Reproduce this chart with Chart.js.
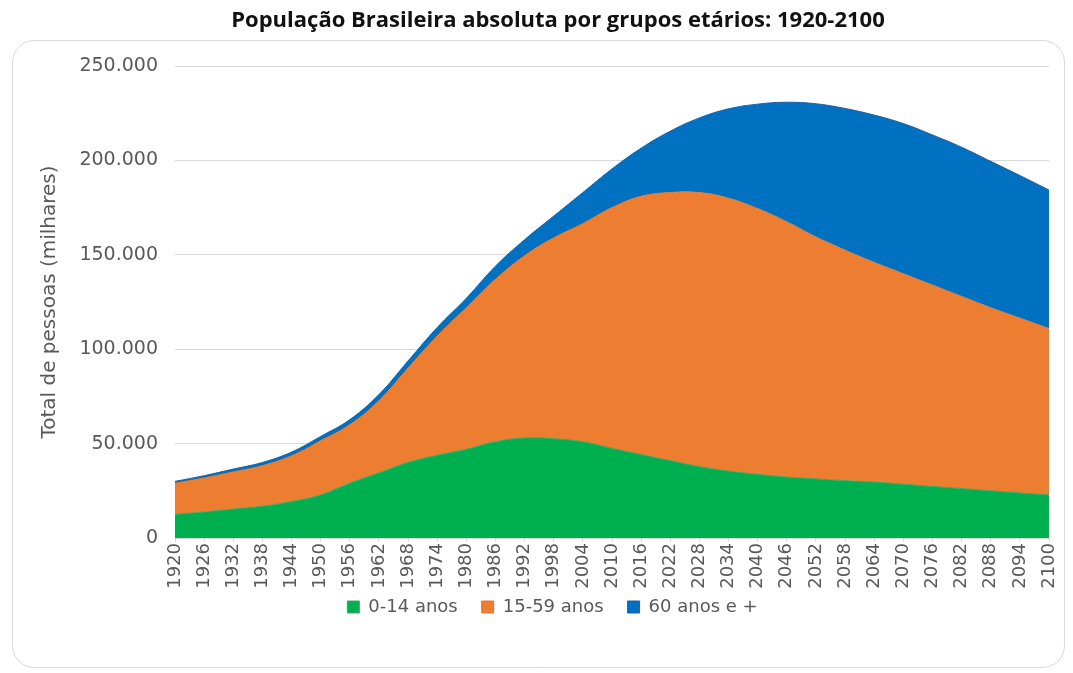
<!DOCTYPE html>
<html lang="pt-BR">
<head>
<meta charset="utf-8">
<title>População Brasileira absoluta por grupos etários</title>
<script src="https://cdn.jsdelivr.net/npm/chart.js@4.4.1/dist/chart.umd.min.js"></script>
<style>
  html, body { margin: 0; padding: 0; background: #ffffff; }
  #caixa { position: relative; width: 1073px; height: 673px; }
  #titulo {
    position: absolute; left: 0; top: 5px; width: 1116px;
    text-align: center; font: bold 22px/26px "Open Sans", sans-serif;
    color: #111111; margin: 0;
  }
</style>
</head>
<body>
<div id="caixa">
  <canvas id="graficoPop" width="1073" height="673"></canvas>
  <h1 id="titulo">População Brasileira absoluta por grupos etários: 1920-2100</h1>
</div>
<script>
// Anos (um rótulo a cada 6 anos)
const anos = [1920, 1926, 1932, 1938, 1944, 1950, 1956, 1962, 1968, 1974, 1980,
  1986, 1992, 1998, 2004, 2010, 2016, 2022, 2028, 2034, 2040, 2046, 2052,
  2058, 2064, 2070, 2076, 2082, 2088, 2094, 2100];

// População em milhares por grupo etário
const pop0a14 = [12500, 13800, 15300, 16800, 19300, 22800, 29000, 34500, 40000,
  43800, 47000, 51000, 53000, 52600, 51000, 47500, 44200, 41000, 37800, 35500,
  33700, 32300, 31300, 30400, 29600, 28500, 27300, 26200, 25000, 23900, 22800];

const pop15a59 = [16500, 18000, 19700, 21500, 24200, 28700, 31000, 38200, 50000,
  63200, 75000, 86000, 96500, 106400, 115500, 127500, 136800, 142000, 145200,
  144500, 140800, 135200, 128200, 122100, 116400, 111500, 106700, 101800, 97000,
  92600, 88200];

const pop60mais = [1000, 1200, 1500, 1700, 2000, 2300, 2700, 3300, 3800, 4500,
  5000, 7000, 8500, 11500, 16500, 20500, 25500, 32500, 39500, 47300, 55300,
  63300, 70500, 75000, 78000, 79500, 79500, 79000, 77500, 75500, 73300];

const ticksY = [0, 50000, 100000, 150000, 200000, 250000];

const corTexto = "#595959";
const fonteBase = "'DejaVu Sans', sans-serif";

// separador de milhar com ponto
function formatar(v) {
  return String(v).replace(/\B(?=(\d{3})+(?!\d))/g, ".");
}

// moldura arredondada por trás do gráfico
const moldura = {
  id: "moldura",
  beforeDraw(chart) {
    const ctx = chart.ctx;
    ctx.save();
    ctx.fillStyle = "#ffffff";
    ctx.fillRect(0, 0, chart.width, chart.height);
    ctx.beginPath();
    ctx.roundRect(12.5, 40.5, 1052, 627, 22);
    ctx.strokeStyle = "#d9d9d9";
    ctx.lineWidth = 1;
    ctx.stroke();
    ctx.restore();
  }
};

// empurra a legenda um pouco para a direita e para baixo
const ajusteLegenda = {
  id: "ajusteLegenda",
  afterLayout(chart) {
    const leg = chart.legend;
    if (!leg) return;
    leg.left += 17;
    leg.right += 17;
    leg.top += 3;
    leg.bottom += 3;
  }
};

const ctx = document.getElementById("graficoPop").getContext("2d");

new Chart(ctx, {
  type: "line",
  data: {
    labels: anos,
    datasets: [
      {
        label: "0-14 anos",
        data: pop0a14,
        backgroundColor: "#00b050",
        borderColor: "#3aa860",
        fill: "origin"
      },
      {
        label: "15-59 anos",
        data: pop15a59,
        backgroundColor: "#ed7d31",
        borderColor: "#d77a3a",
        fill: "-1"
      },
      {
        label: "60 anos e +",
        data: pop60mais,
        backgroundColor: "#0070c0",
        borderColor: "#1f5f9e",
        fill: "-1"
      }
    ]
  },
  options: {
    responsive: false,
    animation: false,
    elements: {
      point: { radius: 0, hoverRadius: 0 },
      line: { tension: 0.4, borderWidth: 1 }
    },
    layout: { padding: { left: 22, right: 24, top: 66, bottom: 50 } },
    plugins: {
      title: { display: false },
      legend: {
        position: "bottom",
        labels: {
          color: corTexto,
          font: { family: fonteBase, size: 18 },
          boxWidth: 12,
          boxHeight: 12,
          padding: 6,
          // espaço extra entre os itens da legenda
          generateLabels(chart) {
            const itens = Chart.defaults.plugins.legend.labels.generateLabels(chart);
            itens.forEach((it, i) => {
              if (i < itens.length - 1) it.text = it.text + "\u2003";
            });
            return itens;
          }
        }
      },
      tooltip: { enabled: false }
    },
    scales: {
      x: {
        offset: false,
        afterFit(escala) {
          escala.height = 51;
        },
        grid: {
          display: true,
          drawOnChartArea: false,
          tickLength: 4,
          color: "#d9d9d9"
        },
        border: { color: "#d9d9d9" },
        ticks: {
          color: corTexto,
          font: { family: fonteBase, size: 18 },
          autoSkip: false,
          maxRotation: 90,
          minRotation: 90,
          padding: 1
        }
      },
      y: {
        stacked: true,
        min: 0,
        max: 250000,
        afterBuildTicks(escala) {
          escala.ticks = ticksY.map(v => ({ value: v }));
        },
        afterFit(escala) {
          escala.width = 153;
        },
        grid: {
          color: "#d9d9d9",
          drawTicks: false
        },
        border: { display: false },
        ticks: {
          color: corTexto,
          font: { family: fonteBase, size: 19 },
          padding: 17,
          callback: v => formatar(v)
        },
        title: {
          display: true,
          text: "Total de pessoas (milhares)",
          color: corTexto,
          font: { family: fonteBase, size: 20 },
          padding: { top: 16, bottom: 0 }
        }
      }
    }
  },
  plugins: [moldura, ajusteLegenda]
});
</script>
</body>
</html>
